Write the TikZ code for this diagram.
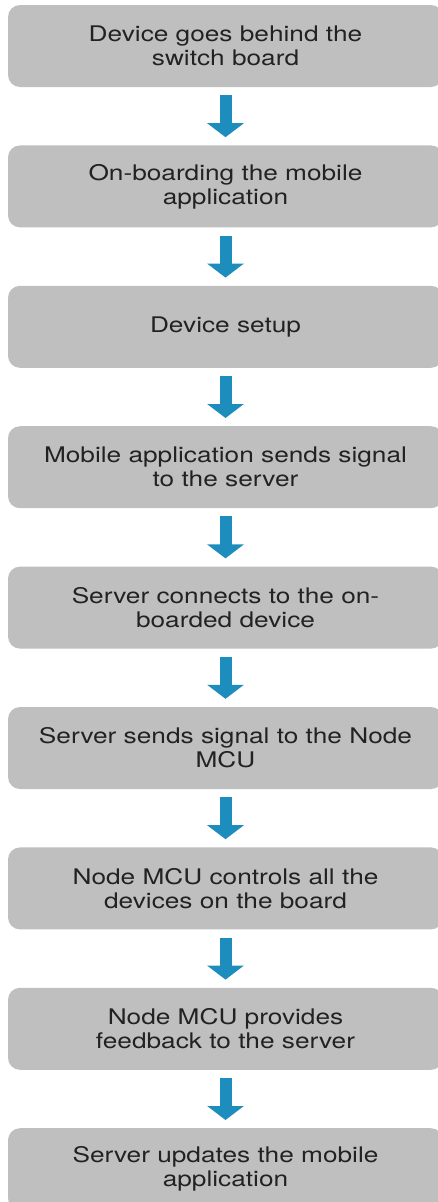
\documentclass[tikz,border=0pt]{standalone}
\usepackage{fontspec}
\setmainfont{TeX Gyre Heros}[FakeStretch=1.22]
\usepackage{tikz}
\usetikzlibrary{arrows.meta,positioning}
\definecolor{boxgray}{RGB}{191,191,191}
\definecolor{arrowblue}{RGB}{28,141,189}
\definecolor{textgray}{RGB}{34,34,34}

\begin{document}
\begin{tikzpicture}[
  font=\fontsize{21.5pt}{24pt}\selectfont,
  stepbox/.style={fill=boxgray, rounded corners=12pt, align=center, inner sep=0pt,
    minimum width=435pt, minimum height=82pt, text=textgray},
  arr/.style={-{Triangle[width=36pt, length=14pt]}, line width=12pt, arrowblue,
    shorten <=8pt, shorten >=8pt},
  node distance=58pt]
\useasboundingbox (0,0) rectangle (437pt,-1202pt);
\node[stepbox] (S1) at (225.5pt,-46pt) {Device goes behind the\\switch board};
\node[stepbox, below=of S1] (S2) {On-boarding the mobile\\application};
\node[stepbox, below=of S2] (S3) {Device setup};
\node[stepbox, below=of S3] (S4) {Mobile application sends signal\\to the server};
\node[stepbox, below=of S4] (S5) {Server connects to the on-\\boarded device};
\node[stepbox, below=of S5] (S6) {Server sends signal to the Node\\MCU};
\node[stepbox, below=of S6] (S7) {Node MCU controls all the\\devices on the board};
\node[stepbox, below=of S7] (S8) {Node MCU provides\\feedback to the server};
\node[stepbox, below=of S8] (S9) {Server updates the mobile\\application};
\foreach \a/\b in {S1/S2,S2/S3,S3/S4,S4/S5,S5/S6,S6/S7,S7/S8,S8/S9}
  \draw[arr] (\a) -- (\b);
\end{tikzpicture}
\end{document}
